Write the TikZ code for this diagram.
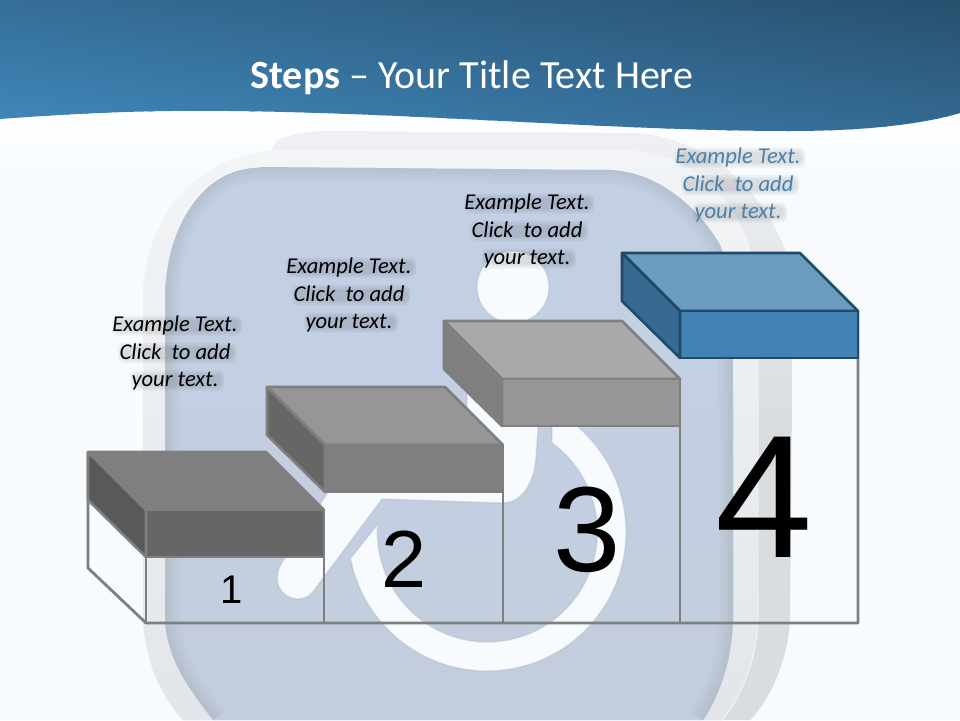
\documentclass[tikz,border=0pt]{standalone}
\usepackage{fontspec}
\setmainfont{Carlito}
\newfontfamily\numfont{Liberation Sans}
\definecolor{pagebg}{HTML}{F7FBFE}
\definecolor{headA}{HTML}{3F86B8}
\definecolor{headB}{HTML}{28506F}
\definecolor{glowc}{HTML}{A4AFBE}
\definecolor{wirec}{HTML}{7F7F7F}
\definecolor{bluetext}{HTML}{4A80AA}
\definecolor{backA}{HTML}{EEF0F3}
\definecolor{backB}{HTML}{DADDE0}
\definecolor{midA}{HTML}{F2F4F6}
\definecolor{midB}{HTML}{E2E6EA}
\definecolor{faceA}{HTML}{C3D0E5}
\definecolor{faceB}{HTML}{C3CDDD}
\definecolor{sA}{HTML}{808080}\definecolor{sB}{HTML}{666666}\definecolor{sC}{HTML}{595959}
\definecolor{tA}{HTML}{969696}\definecolor{tB}{HTML}{7F7F7F}\definecolor{tC}{HTML}{666666}
\definecolor{uA}{HTML}{A9A9A9}\definecolor{uB}{HTML}{969696}\definecolor{uC}{HTML}{7F7F7F}
\definecolor{vA}{HTML}{6A9CC0}\definecolor{vB}{HTML}{4283B3}\definecolor{vC}{HTML}{376A92}\definecolor{vD}{HTML}{1F4A68}
\tikzset{
  wireline/.style={draw=wirec,line width=2.8pt,line join=round},
  stepface/.style={line width=2.6pt,line join=round},
  capt/.style={inner sep=0pt,align=center,font=\fontsize{22.6}{27.5}\selectfont\itshape},
  chair/.style={fill=pagebg,draw=glowc,draw opacity=.35,line width=1.4pt,line join=round},
  smudge/.style={fill=black,opacity=.04,rounded corners=6pt},
}
% soft shadow bar behind one caption line: centre x, centre y, half width
\newcommand\softbar[3]{%
  \fill[smudge] (#1-#3-1,#2-7) rectangle (#1+#3+5,#2+13);
  \fill[smudge] (#1-#3+1,#2-5) rectangle (#1+#3+4,#2+11);
  \fill[smudge] (#1-#3+3,#2-3) rectangle (#1+#3+2,#2+9);}
\newcommand\captext[4]{%
  \softbar{#2}{#3-27.5-3}{62}
  \softbar{#2}{#3-3}{56}
  \softbar{#2}{#3+27.5-3}{44}
  \node[capt,text=#4] (#1) at (#2,#3) {Example Text.\\Click\ \ to add\\your text.};}
\newcommand\stepbox[6]{%
  \filldraw[fill=#3,draw=#6,stepface] (#1,#2) -- ++(178,0) -- ++(58,58) -- ++(-178,0) -- cycle;
  \filldraw[fill=#4,draw=#6,stepface] (#1+58,#2+58) -- ++(178,0) -- ++(0,47) -- ++(-178,0) -- cycle;
  \filldraw[fill=#5,draw=#6,stepface] (#1,#2) -- ++(58,58) -- ++(0,47) -- ++(-58,-57) -- cycle;}
\begin{document}
\begin{tikzpicture}[x=1pt,y=-1pt]
\useasboundingbox (0,0) rectangle (960,720);
\clip (0,0) rectangle (960,720);
\fill[pagebg] (0,0) rectangle (960,720);
\shade[top color=white,bottom color=pagebg] (0,100) rectangle (960,175);
% icon: back layer
\shade[top color=backA,bottom color=backB,middle color=backB]
 (277,140) .. controls (290,135) and (305,131) .. (330,131) -- (640,133)
 .. controls (700,140) and (760,180) .. (787,255)
 .. controls (792,280) and (792,300) .. (792,400) -- (790,620)
 .. controls (788,660) and (770,700) .. (750,720) -- (183,720) -- (143,400) -- cycle;
% icon: middle layer
\shade[top color=midA,bottom color=midB]
 (143,620) -- (143,300) .. controls (143,215) and (200,150) .. (285,150) -- (620,150)
 .. controls (680,150) and (725,185) .. (745,235)
 .. controls (757,270) and (758,300) .. (758,400) -- (758,620)
 .. controls (757,660) and (740,700) .. (722,720) -- (183,720)
 .. controls (160,695) and (145,660) .. (143,620) -- cycle;
\draw[white,opacity=.7,line width=.8pt] (745,235)
 .. controls (757,270) and (758,300) .. (758,400) -- (758,620)
 .. controls (757,660) and (740,700) .. (722,720);
% icon: blue face
\begin{scope}
\clip (165,620) -- (165,300) .. controls (165,225) and (205,167) .. (260,167) -- (610,170)
 .. controls (660,172) and (700,210) .. (720,245)
 .. controls (730,270) and (733,300) .. (733,400) -- (733,620)
 .. controls (732,660) and (720,695) .. (703,720) -- (213,720)
 .. controls (190,690) and (167,660) .. (165,620) -- cycle;
\shade[top color=faceA,bottom color=faceB] (150,160) rectangle (750,720);
\foreach \w in {30,26,22,18,14,10,6}
 \draw[gray,opacity=.025,line width=\w pt]
 (213,720) .. controls (190,690) and (167,660) .. (165,620) -- (165,300) .. controls (165,225) and (205,167) .. (260,167) -- (610,170)
 .. controls (660,172) and (700,210) .. (720,245)
 .. controls (730,270) and (733,300) .. (733,400) -- (733,620)
 .. controls (732,660) and (720,695) .. (703,720);
\end{scope}
\draw[white,opacity=.8,line width=.9pt] (180,220) .. controls (200,185) and (225,168) .. (260,167);
% wheelchair symbol
\draw[chair] (513,287) circle[radius=36];
\draw[chair] (487,532) ++(-191:139) arc[start angle=-191,end angle=-420,radius=139]
 -- (552,412) -- (552,443) arc[start angle=-54,end angle=184,radius=110] -- cycle;
\draw[chair] (467,340) -- (540,340) -- (538,430) .. controls (536,455) and (536,470) .. (532,477)
 .. controls (526,495) and (515,503) .. (502,503) -- (382,499) -- (312,593)
 .. controls (303,603) and (285,600) .. (279,587) .. controls (275,575) and (279,566) .. (285,558)
 -- (332,486) -- (467,420) -- cycle;
% header
\begin{scope}
\clip (0,0) -- (960,0) -- (960,113) .. controls (920,125) and (860,131) .. (790,131)
 .. controls (620,131) and (420,113) .. (230,111) .. controls (150,110) and (80,113) .. (0,119) -- cycle;
\foreach \i in {0,...,66}{
  \pgfmathsetmacro\mixval{100*\i/66}
  \fill[headA!\mixval!headB,rotate around={-9:(480,65)}] (-140,-74+4*\i) rectangle ++(1240,4.6);
}
\end{scope}
\node[inner sep=0pt,text=white,font=\fontsize{40}{44}\selectfont] (title) at (472,78) {\textbf{Steps} -- Your Title Text Here};
% columns
\draw[wireline] (88,452) -- (88,568) -- (146,623) -- (858,623) -- (858,311);
\draw[wireline] (146,556) -- (146,623);
\draw[wireline] (324,510) -- (324,623);
\draw[wireline] (503,444) -- (503,623);
\draw[wireline] (680,379) -- (680,623);
% steps
\stepbox{88}{452}{sA}{sB}{sC}{wirec}
\stepbox{267}{387}{tA}{tB}{tC}{wirec}
\stepbox{444}{321}{uA}{uB}{uC}{wirec}
\stepbox{622}{253}{vA}{vB}{vC}{vD}
% digits
\node[inner sep=0pt,font=\numfont\fontsize{40}{40}\selectfont] (n1) at (232,590) {1};
\node[inner sep=0pt,font=\numfont\fontsize{81}{81}\selectfont] (n2) at (404,559) {2};
\node[inner sep=0pt,font=\numfont\fontsize{121}{121}\selectfont] (n3) at (587,530) {3};
\node[inner sep=0pt,font=\numfont\fontsize{175}{175}\selectfont] (n4) at (764,497) {4};
% captions
\captext{c1}{175}{353}{black}
\captext{c2}{349}{295}{black}
\captext{c3}{527}{231}{black}
\captext{c4}{738}{185}{bluetext}
\end{tikzpicture}
\end{document}
